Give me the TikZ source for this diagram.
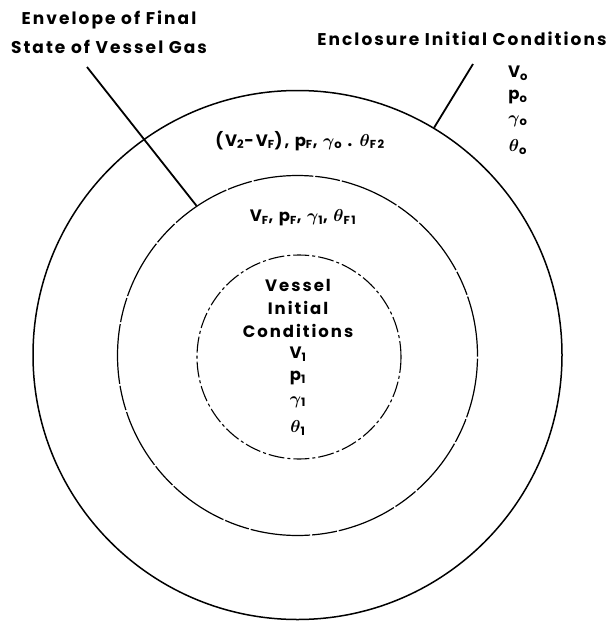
\documentclass[tikz,border=0pt]{standalone}
\usepackage{fontspec}
\usepackage{tikz}
\usetikzlibrary{positioning}
\newfontfamily\vesselfont{Poppins}[LetterSpace=12]
\newcommand{\lowidx}[1]{\textsubscript{#1}}
\tikzset{
  ringOuter/.style={
    circle,
    draw=black,
    line width=1.5pt,
    inner sep=0pt,
    minimum size=529pt
  },
  ringMid/.style={
    circle,
    draw=black,
    line width=1.2pt,
    inner sep=0pt,
    minimum size=360pt,
    dash pattern=on 60pt off 2pt on 25pt off 2pt
  },
  ringInner/.style={
    circle,
    draw=black,
    line width=1.1pt,
    inner sep=0pt,
    minimum size=204pt,
    dash pattern=on 16pt off 3pt on 3pt off 3pt
  },
  gasText/.style={
    font=\vesselfont\bfseries\boldmath\fontsize{17}{29}\selectfont,
    align=center,
    inner sep=1pt
  },
  stateText/.style={
    font=\vesselfont\bfseries\boldmath\fontsize{16.5}{20}\selectfont,
    inner sep=1pt
  },
  leaderLine/.style={
    line width=1.8pt,
    draw=black
  }
}

\begin{document}
\begin{tikzpicture}[x=1pt,y=-1pt]
  \useasboundingbox (0,0) rectangle (613,621);

  % three rings round the vessel
  \node[ringOuter] (outer) at (297.5,355) {};
  \node[ringMid] (mid) at (297.5,355.5) {};
  \node[ringInner] (inner) at (299,357) {};

  % labels outside
  \node[gasText] (envelope) at (109,32) {Envelope of Final\\State of Vessel Gas};
  \node[gasText] (enclosure) at (462,39) {Enclosure Initial Conditions};
  \node[stateText] (vo) at (518,73) {V\lowidx{o}};
  \node[stateText] (po) at (518,97) {p\lowidx{o}};
  \node[stateText] (go) at (518,121) {$\gamma$\lowidx{o}};
  \node[stateText] (to) at (518,147) {$\theta$\lowidx{o}};

  % states in the rings
  \node[stateText] (annulus) at (300,141) {(V\lowidx{2}-V\lowidx{F}), p\lowidx{F}, $\gamma$\lowidx{o} . $\theta$\lowidx{F2}};
  \node[stateText] (final) at (303,218) {V\lowidx{F}, p\lowidx{F}, $\gamma$\lowidx{1}, $\theta$\lowidx{F1}};

  \node[stateText] (vessel) at (298,285) {Vessel};
  \node[stateText] (initial) at (298,308) {Initial};
  \node[stateText] (cond) at (298,331) {Conditions};
  \node[stateText] (v1) at (298,354) {V\lowidx{1}};
  \node[stateText] (p1) at (298,378) {p\lowidx{1}};
  \node[stateText] (g1) at (298,402) {$\gamma$\lowidx{1}};
  \node[stateText] (t1) at (298,428) {$\theta$\lowidx{1}};

  % leaders
  \coordinate (envfoot) at (87,67);
  \coordinate (encfoot) at (473,64);
  \draw[leaderLine] (envfoot) -- (mid.124.4);
  \draw[leaderLine] (encfoot) -- (outer.59.3);
\end{tikzpicture}
\end{document}
